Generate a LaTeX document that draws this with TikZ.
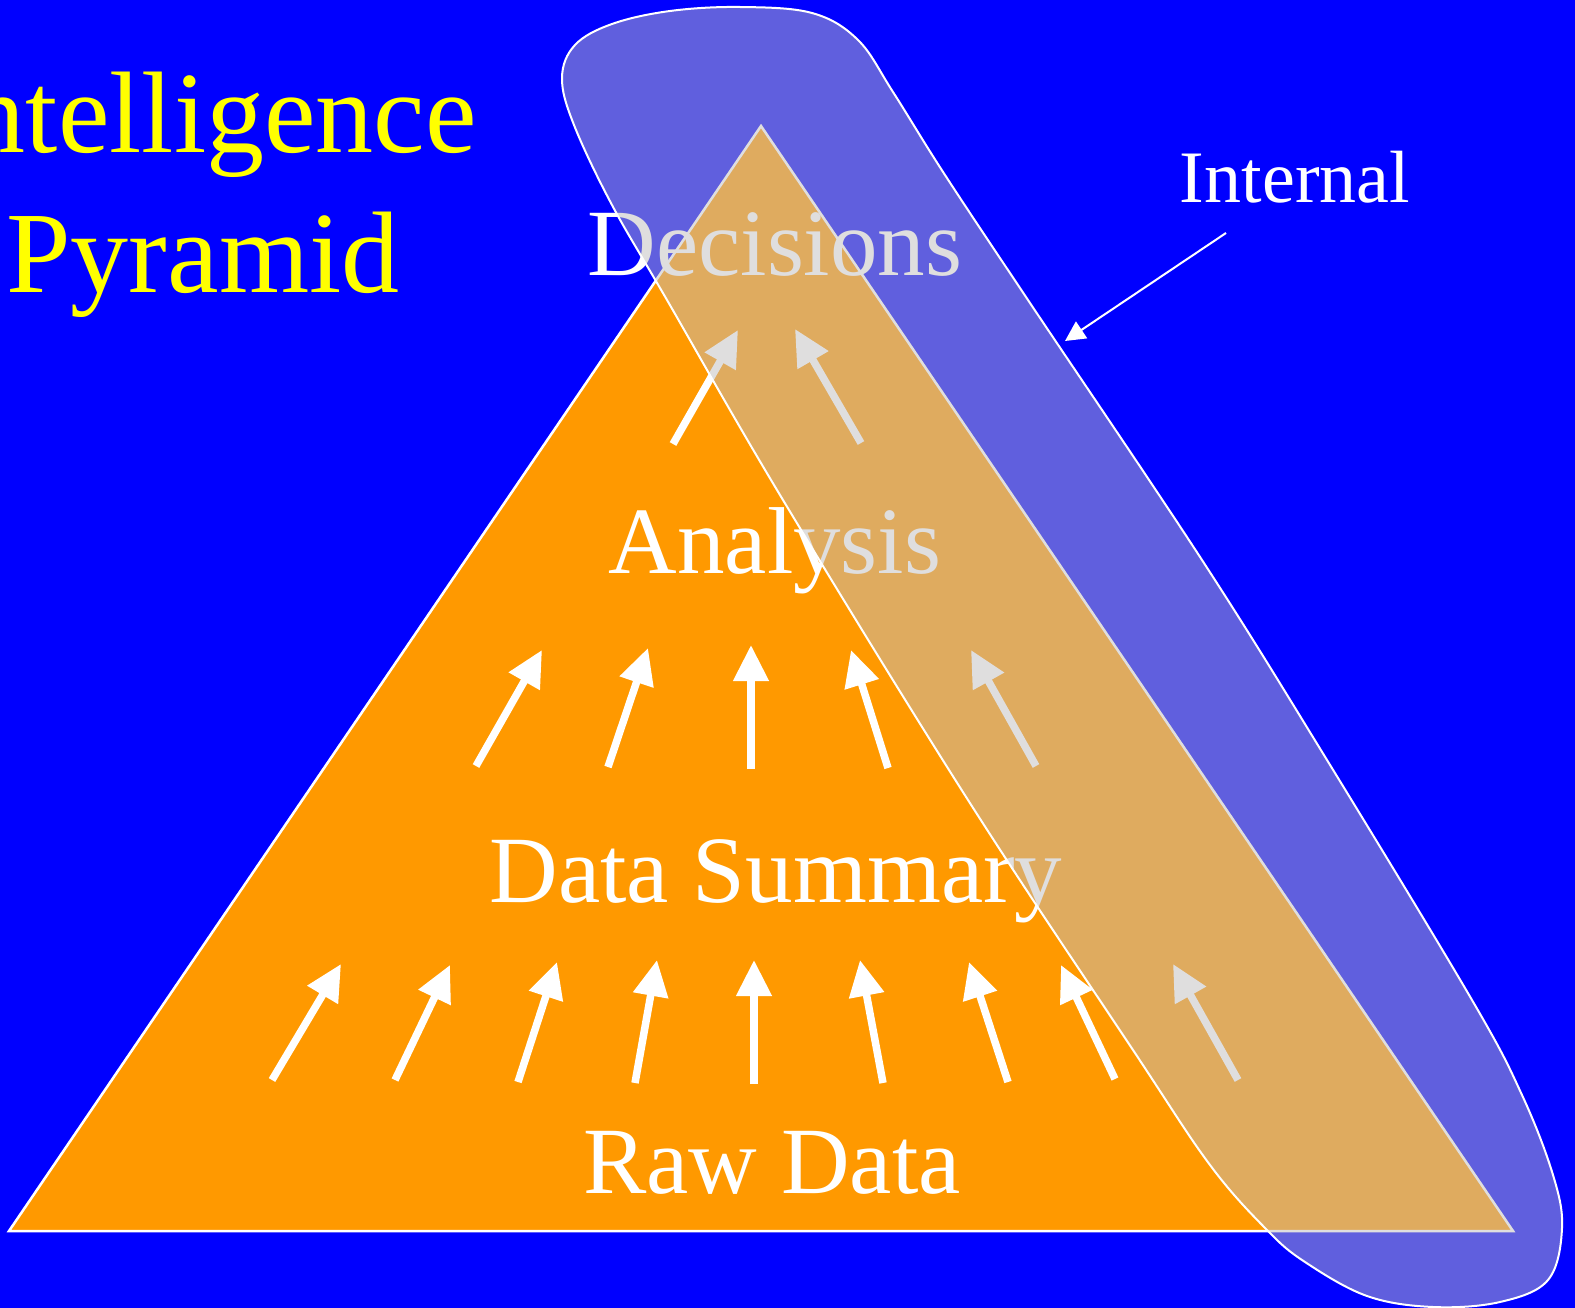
\documentclass[tikz,border=0pt]{standalone}
\usepackage{fontspec}
\setmainfont{Liberation Serif}
\usetikzlibrary{arrows.meta}
\definecolor{bgblue}{RGB}{0,0,255}
\definecolor{pyrorange}{RGB}{255,153,0}
\definecolor{overlaygray}{RGB}{192,190,190}
\definecolor{titleyellow}{RGB}{255,255,0}
\tikzset{
  uparrow/.style={line width=7.5pt, white, -{Triangle[length=36pt,width=34pt]}},
  layertext/.style={anchor=base, inner sep=0pt, text=white, font=\fontsize{95}{100}\selectfont},
  titletext/.style={anchor=base, inner sep=0pt, text=titleyellow, font=\fontsize{116}{120}\selectfont},
  blob/.style={draw=white, line width=2pt, fill=overlaygray, fill opacity=0.5},
  pyramid/.style={draw=white, line width=2.5pt, fill=pyrorange, line join=miter},
  pointer/.style={draw=white, line width=2pt, -{Triangle[length=20pt,width=20pt]}}
}
\begin{document}
\begin{tikzpicture}[x=1pt,y=-1pt]
\path[use as bounding box, fill=bgblue] (0,0) rectangle (1575,1308);
\clip (0,0) rectangle (1575,1308);

% title
\node[titletext] (t1) at (203,153) {Intelligence};
\node[titletext] (t2) at (203,293) {Pyramid};

% pyramid
\coordinate (apex) at (761,126);
\coordinate (bl) at (9,1231);
\coordinate (br) at (1513,1231);
\draw[pyramid] (apex) -- (br) -- (bl) -- cycle;

% layer labels
\node[layertext] (dec) at (775,276) {Decisions};
\node[layertext] (ana) at (775,573) {Analysis};
\node[layertext] (sum) at (776,902) {Data Summary};
\node[layertext] (raw) at (772,1193) {Raw Data};

% arrows row 1
\foreach \a/\b/\c/\d in {673/444/738/330, 861/443/795/329}
  \draw[uparrow] (\a,\b) -- (\c,\d);
% arrows row 2
\foreach \a/\b/\c/\d in {476/766/542/650, 608/767/648/648, 751/769/751/645, 888/768/851/650, 1036/766/971/650}
  \draw[uparrow] (\a,\b) -- (\c,\d);
% arrows row 3
\foreach \a/\b/\c/\d in {272/1080/341/964, 395/1080/450/965, 518/1082/557/962, 635/1083/657/960, 754/1084/754/960, 883/1083/860/960, 1008/1082/969/962, 1115/1079/1061/965, 1238/1080/1173/964}
  \draw[uparrow] (\a,\b) -- (\c,\d);

% internal overlay
\draw[blob] plot[smooth cycle, tension=0.6] coordinates {
  (562,78) (575,45) (612,24) (670,11) (740,7) (812,13) (858,40) (893,92)
  (945,175) (1030,303) (1202,560) (1327,760) (1472,1000) (1522,1095)
  (1553,1175) (1562,1228) (1548,1280) (1500,1302) (1433,1307) (1367,1296)
  (1305,1262) (1267,1230) (1210,1165) (1133,1050) (968,800) (783,500)
  (667,300) (612,205) (574,125)};

% Internal label and pointer
\node[anchor=base, inner sep=0pt, text=white, font=\fontsize{74}{80}\selectfont] (int) at (1295,203) {Internal};
\coordinate (ptail) at (1226,233);
\coordinate (ptip) at (1065,341);
\draw[pointer] (ptail) -- (ptip);
\end{tikzpicture}
\end{document}
